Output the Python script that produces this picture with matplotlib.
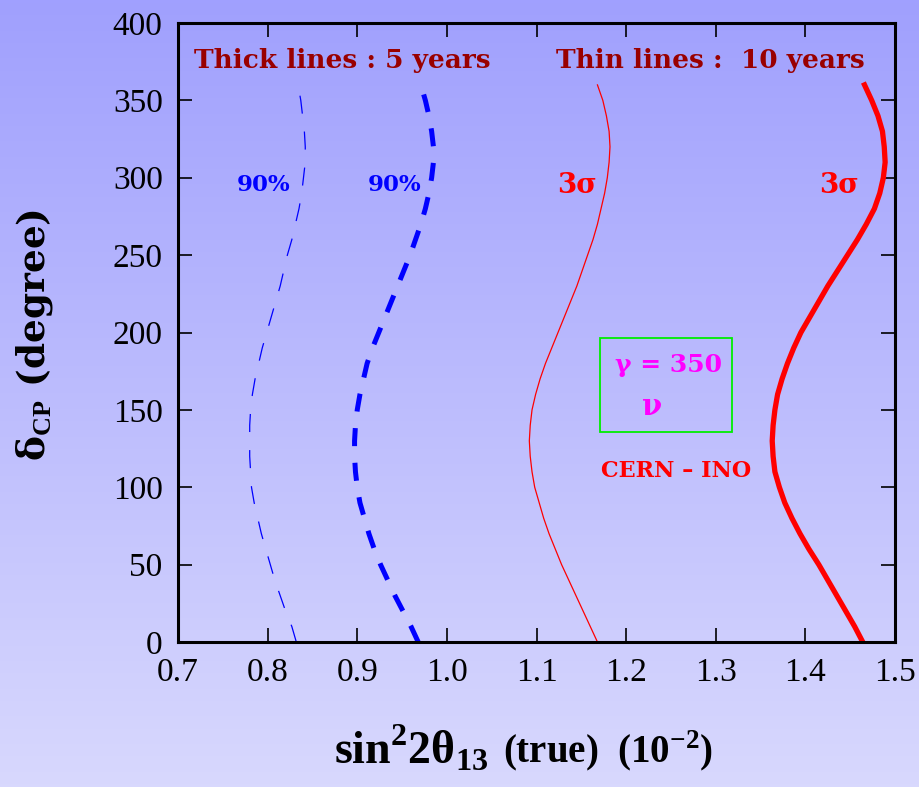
import numpy as np
import matplotlib.pyplot as plt
from matplotlib.patches import Rectangle

# delta_CP grid (degree) and sin^2 2theta13 (true) (10^-2)
delta_cp = list(range(0, 361, 10))

# 90% CL, thin dashed blue
blue_thin = [0.832, 0.827, 0.820, 0.814, 0.808, 0.803, 0.798, 0.793, 0.789, 0.785,
             0.782, 0.781, 0.780, 0.780, 0.780, 0.781, 0.783, 0.786, 0.790, 0.794,
             0.799, 0.804, 0.809, 0.814, 0.818, 0.822, 0.827, 0.831, 0.835, 0.838,
             0.840, 0.842, 0.842, 0.841, 0.839, 0.837, 0.834]
# 90% CL, thick dashed blue
blue_thick = [0.968, 0.960, 0.951, 0.942, 0.934, 0.926, 0.919, 0.913, 0.908, 0.903,
              0.900, 0.898, 0.897, 0.897, 0.898, 0.900, 0.903, 0.907, 0.911, 0.917,
              0.924, 0.931, 0.938, 0.945, 0.952, 0.959, 0.965, 0.971, 0.976, 0.980,
              0.983, 0.985, 0.985, 0.983, 0.980, 0.976, 0.971]
# 3 sigma, thin red
red_thin = [1.168, 1.160, 1.152, 1.144, 1.136, 1.128, 1.121, 1.114, 1.108, 1.103,
            1.098, 1.095, 1.093, 1.092, 1.093, 1.095, 1.099, 1.104, 1.110, 1.117,
            1.124, 1.131, 1.138, 1.145, 1.151, 1.157, 1.163, 1.168, 1.172, 1.176,
            1.179, 1.181, 1.182, 1.181, 1.178, 1.174, 1.168]
# 3 sigma, thick red
red_thick = [1.464, 1.455, 1.445, 1.435, 1.425, 1.415, 1.404, 1.394, 1.385, 1.377,
             1.371, 1.366, 1.364, 1.363, 1.364, 1.366, 1.369, 1.374, 1.380, 1.387,
             1.395, 1.405, 1.415, 1.425, 1.436, 1.447, 1.458, 1.468, 1.477, 1.483,
             1.487, 1.489, 1.488, 1.486, 1.481, 1.474, 1.466]

x_ticks = [0.7, 0.8, 0.9, 1.0, 1.1, 1.2, 1.3, 1.4, 1.5]
y_ticks = [0, 50, 100, 150, 200, 250, 300, 350, 400]

plt.rcParams['font.family'] = ['Liberation Serif', 'DejaVu Serif']
plt.rcParams['mathtext.fontset'] = 'custom'
plt.rcParams['mathtext.rm'] = 'Liberation Serif'
plt.rcParams['mathtext.bf'] = 'Liberation Serif:bold'
plt.rcParams['lines.scale_dashes'] = False

fig = plt.figure(figsize=(9.2, 7.87), dpi=100)

# gradient background
bg = fig.add_axes([0, 0, 1, 1], zorder=-10)
top = np.array([160, 160, 254]) / 255.
bottom = np.array([216, 216, 253]) / 255.
t = np.linspace(0, 1, 256)[:, None]
grad = top[None, None, :] * (1 - t[:, :, None]) + bottom[None, None, :] * t[:, :, None]
bg.imshow(np.repeat(grad, 2, axis=1), aspect='auto', extent=[0, 1, 0, 1])
bg.axis('off')

ax = fig.add_axes([178 / 920, 1 - 642 / 787, (895 - 178) / 920, (642 - 23) / 787])
ax.patch.set_alpha(0)

ax.plot(blue_thin, delta_cp, color='blue', lw=0.9, dashes=(13, 13))
ax.plot(blue_thick, delta_cp, color='blue', lw=3.6, dashes=(13, 12))
ax.plot(red_thin, delta_cp, color='red', lw=0.9)
ax.plot(red_thick, delta_cp, color='red', lw=3.8)

ax.set_xlim(0.7, 1.5)
ax.set_ylim(0, 400)
ax.set_xticks(x_ticks)
ax.set_xticklabels([f'{v:.1f}' for v in x_ticks])
ax.set_yticks(y_ticks)
ax.tick_params(direction='in', length=10, width=1.2, top=True, right=True,
               labelsize=24)
ax.tick_params(axis='x', pad=11)
ax.tick_params(axis='y', pad=11)
for s in ax.spines.values():
    s.set_linewidth(2.2)

cen = 'DejaVu Serif'
dark_red = '#990000'
ax.text(0.883, 376, 'Thick lines : 5 years', color=dark_red, fontsize=19, family=cen,
        fontweight='bold', ha='center', va='center')
ax.text(1.294, 376, 'Thin lines :  10 years', color=dark_red, fontsize=19, family=cen,
        fontweight='bold', ha='center', va='center')
ax.text(0.796, 295, '90%', color='blue', fontsize=16.5, family=cen, fontweight='bold',
        ha='center', va='center')
ax.text(0.942, 295, '90%', color='blue', fontsize=16.5, family=cen, fontweight='bold',
        ha='center', va='center')
ax.text(1.145, 295, '3σ', color='red', fontsize=20, family=cen, fontweight='bold',
        ha='center', va='center')
ax.text(1.437, 295, '3σ', color='red', fontsize=20, family=cen, fontweight='bold',
        ha='center', va='center')

ax.add_patch(Rectangle((1.171, 135.4), 0.147, 61, fill=False, edgecolor='#00ee00', lw=1.3))
ax.text(1.247, 179, 'γ = 350', color='magenta', fontsize=18, family=cen,
        fontweight='bold', ha='center', va='center')
ax.text(1.229, 152.5, 'ν', color='magenta', fontsize=21, family=cen,
        fontweight='bold', ha='center', va='center')
ax.text(1.256, 110.5, 'CERN – INO', color='red', fontsize=16, family=cen,
        fontweight='bold', ha='center', va='center')

fig.text(488 / 920, 0.03, r'sin$^{\mathbf{2}}$2θ$_{\mathbf{13}}$', fontsize=33,
         fontweight='bold', ha='right', va='baseline')
fig.text(503 / 920, 0.03, r'(true)  (10$^{\mathbf{-2}}$)', fontsize=28,
         fontweight='bold', ha='left', va='baseline')
fig.text(0.038, 0.574, r'δ$_{\mathbf{CP}}$ (degree)', fontsize=27, family=cen,
         fontweight='bold', rotation=90, ha='center', va='center')

fig.savefig('out.png', dpi=100)
